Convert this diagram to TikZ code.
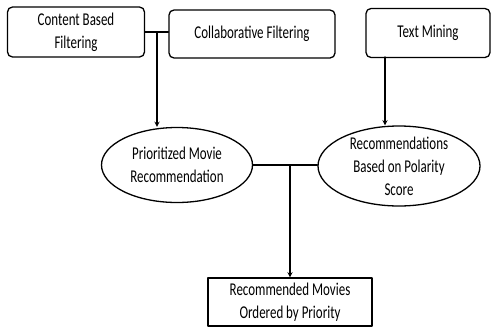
\documentclass[tikz,border=0pt]{standalone}
\usepackage{fontspec}
\setmainfont{Carlito}[FakeStretch=0.72]
\usetikzlibrary{shapes.geometric}

\newcommand{\boxfont}{\fontsize{18}{23}\selectfont}

\tikzset{
  srcbox/.style={draw, line width=1.3pt, rounded corners=5pt, align=center, inner sep=2pt, font=\boxfont},
  outbox/.style={draw, line width=1.3pt, align=center, inner sep=2pt, font=\boxfont},
  stage/.style 2 args={draw, ellipse, line width=1.3pt, inner sep=0pt,
    label={[align=center, font=\boxfont, yshift=#2]center:#1}},
  link/.style={line width=1.3pt}
}

\begin{document}
\begin{tikzpicture}[x=1pt, y=-1pt, >=stealth, line cap=round, line join=round]

  % page frame
  \useasboundingbox (0,0) rectangle (492,327);

  % the three sources along the top
  \node[srcbox, minimum width=137pt, minimum height=50pt] (cbf) at (76,32) {Content Based\\Filtering};
  \node[srcbox, minimum width=166pt, minimum height=48pt] (cf) at (252,34) {Collaborative Filtering};
  \node[srcbox, minimum width=124pt, minimum height=49pt] (tm) at (428,33) {Text Mining};

  % the two intermediate results (text laid over the ellipse)
  \node[stage={Prioritized Movie\\Recommendation}{0pt}, minimum width=151pt, minimum height=75pt] (pmr) at (177,165) {};
  \node[stage={Recommendations\\Based on Polarity\\Score}{0pt}, minimum width=162pt, minimum height=80pt] (rbp) at (399,166) {};

  % final output
  \node[outbox, minimum width=164pt, minimum height=48pt] (out) at (290,302) {Recommended Movies\\Ordered by Priority};

  % joints on the connecting lines
  \coordinate (j1) at (157,32);
  \coordinate (tmfoot) at (385,57);
  \coordinate (j2) at (290,165);

  % Content + Collaborative feed the prioritized ellipse
  \draw[link] (cbf.east) -- (cbf.east -| cf.west);
  \draw[link, ->] (j1) -- (j1 |- pmr.north);

  % Text Mining feeds the polarity ellipse
  \draw[link, ->] (tmfoot) -- (tmfoot |- rbp.north);

  % both results merge into the output box
  \draw[link] (pmr.east) -- (pmr.east -| rbp.west);
  \draw[link, ->] (j2) -- (out.north);

\end{tikzpicture}
\end{document}
